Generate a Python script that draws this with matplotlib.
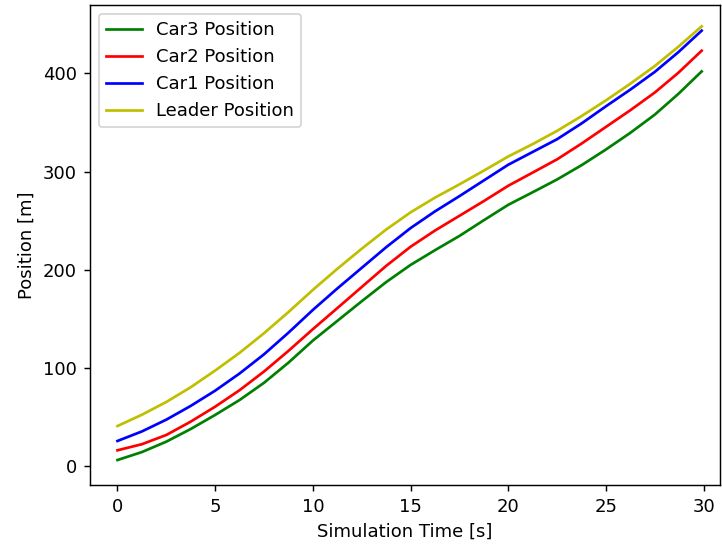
import matplotlib
matplotlib.use("Agg")
import matplotlib.pyplot as plt

# values
time = [0, 1.25, 2.5, 3.75, 5, 6.25, 7.5, 8.75, 10, 11.25, 12.5, 13.75, 15,
        16.25, 17.5, 18.75, 20, 21.25, 22.5, 23.75, 25, 26.25, 27.5, 28.7, 29.9]
leader = [41, 52.5, 65.5, 80.5, 97.5, 115.5, 135.5, 157, 179.6, 201, 221.5, 241, 258.5,
          273.5, 287, 301, 315.4, 328, 341.5, 356.5, 372.5, 389.5, 407.5, 427, 447.9]
car1 = [25.8, 35.5, 47.5, 61.5, 77, 94.5, 114, 136, 159.2, 181, 202, 223, 242.5,
        259.5, 275, 291, 307, 320, 333, 349, 366.5, 383.5, 401.5, 421.5, 443.5]
car2 = [16.3, 22.5, 31.9, 45.5, 60.7, 77.5, 96.5, 117.5, 139.6, 161, 182.5, 204, 223.5,
        240, 255, 270, 285.6, 299, 312.5, 328.5, 345.5, 362.5, 380.5, 400.5, 423.1]
car3 = [6.4, 14.5, 25.1, 38, 52.3, 67.5, 85, 105.5, 128, 148, 168, 187.5, 205,
        220, 234.5, 250.5, 266.2, 279, 292, 306.5, 322.5, 339.5, 358, 379, 402]

fig = plt.figure(figsize=(722 / 130, 544 / 130), dpi=130)
ax = fig.add_axes([0.124, 0.1085, 0.873, 0.883])

ax.plot(time, car3, 'g', label='Car3 Position')
ax.plot(time, car2, 'r', label='Car2 Position')
ax.plot(time, car1, 'b', label='Car1 Position')
ax.plot(time, leader, 'y', label='Leader Position')

ax.set_xlim(-1.43, 30.83)
ax.set_ylim(-19, 470)
ax.set_xlabel('Simulation Time [s]')
ax.set_ylabel('Position [m]')
ax.legend(loc='upper left')

fig.savefig('out.png', dpi=130)
